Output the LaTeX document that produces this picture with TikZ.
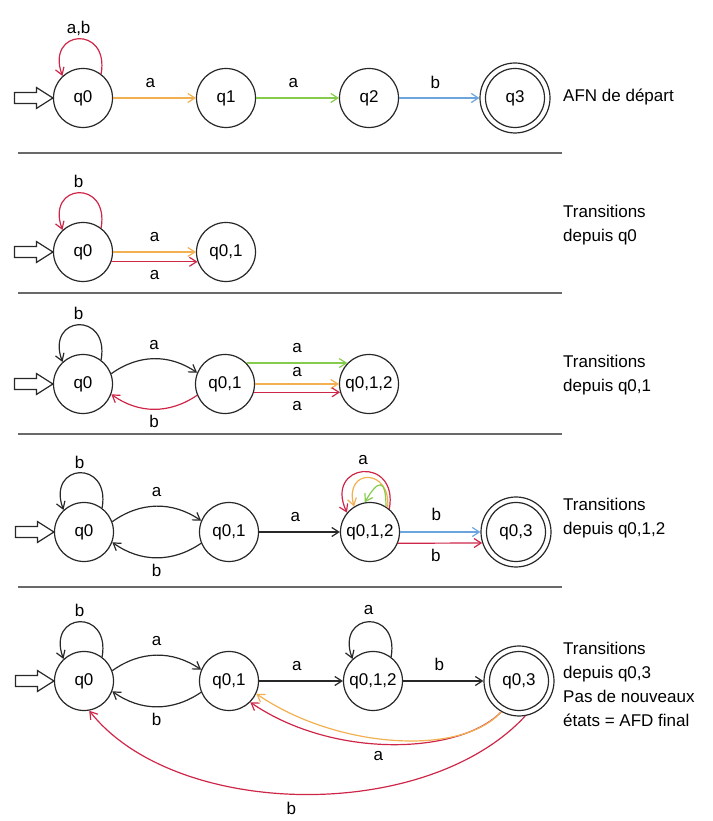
\documentclass[tikz,border=0pt]{standalone}
\usepackage{fontspec}
\setmainfont{Liberation Sans}
\usetikzlibrary{arrows.meta,calc}

\definecolor{cred}{RGB}{206,38,72}
\definecolor{corange}{RGB}{242,176,80}
\definecolor{cgreen}{RGB}{134,204,76}
\definecolor{cblue}{RGB}{108,164,222}
\definecolor{sepgray}{RGB}{105,105,105}
\definecolor{cline}{RGB}{40,40,40}

\newcommand{\automfont}{\fontsize{17}{24}\selectfont}
\newcommand{\initarrow}[1]{\path[draw=cline,line width=1.2pt,fill=white] ($(#1.west)+(-38.5,5.5)$) -- ++(22,0) -- ++(0,5) -- (#1.west) -- ++(-16.5,-10.5) -- ++(0,5) -- ++(-22,0) -- cycle;}

\begin{document}
\begin{tikzpicture}[x=1pt,y=1pt,
        state/.style={circle,draw=cline,line width=1.2pt,minimum size=59pt,inner sep=0pt,font=\automfont},
        final/.style={state,minimum size=70pt},
        trans/.style={line width=1.2pt,-{Straight Barb[length=7pt,width=9pt]}},
        lbl/.style={inner sep=0pt,text=black,font=\automfont},
        note/.style={anchor=west,align=left,inner sep=0pt,font=\automfont},
        sep/.style={line width=1.4pt,draw=sepgray},
        loopq/.style={to path={.. controls +(80:50) and +(110:50) .. (\tikztotarget) \tikztonodes}},
        loopwide/.style={to path={.. controls +(80:55) and +(115:55) .. (\tikztotarget) \tikztonodes}},
        loopmid/.style={to path={.. controls +(85:40) and +(105:40) .. (\tikztotarget) \tikztonodes}},
        loopsmall/.style={to path={.. controls +(90:30) and +(60:25) .. (\tikztotarget) \tikztonodes}}]
        \useasboundingbox (0,0) rectangle (712,821);

        \node[state] (s1q0) at (83,723) {q0};
        \node[state] (s1q1) at (226,723) {q1};
        \node[state] (s1q2) at (369,723) {q2};
        \node[final] (s1q3) at (515,723) {q3};
        \draw[cline,line width=1.2pt] (s1q3.center) circle (29.5);
        \initarrow{s1q0}
        \draw[trans,cred] (s1q0.53) to[loopq] node[lbl,above=3pt] (t1) {a,b} (s1q0.133);
        \draw[trans,corange] (s1q0) -- node[lbl,above=9.5pt,pos=0.45] (t2) {a} (s1q1);
        \draw[trans,cgreen] (s1q1) -- node[lbl,above=9.5pt,pos=0.45] (t3) {a} (s1q2);
        \draw[trans,cblue] (s1q2) -- node[lbl,above=9pt,pos=0.45] (t4) {b} (s1q3);
        \node[note] (n1) at (563,724) {AFN de départ};

        \draw[sep] (18,668) -- (562,668);

        \node[state] (s2q0) at (83,569) {q0};
        \node[state] (s2q01) at (226,569) {q0,1};
        \initarrow{s2q0}
        \draw[trans,cred] (s2q0.53) to[loopq] node[lbl,above=5pt] (t5) {b} (s2q0.133);
        \draw[trans,corange] (s2q0) -- node[lbl,above=9.5pt] (t6) {a} (s2q01);
        \draw[trans,cred] (s2q0.-19) -- node[lbl,below=7.5pt] (t7) {a} (s2q01.199);
        \node[note] (n2) at (563,595.5) {Transitions\\depuis q0};

        \draw[sep] (18,528) -- (562,528);

        \node[state] (s3q0) at (83,437) {q0};
        \node[state] (s3q01) at (225,437) {q0,1};
        \node[state] (s3q012) at (369,437) {q0,1,2};
        \initarrow{s3q0}
        \draw[trans,cline] (s3q0.53) to[loopq] node[lbl,above=5pt] (t8) {b} (s3q0.133);
        \draw[trans,cline] (s3q0.20) to[bend left=35] node[lbl,above=8.5pt] (t9) {a} (s3q01.158);
        \draw[trans,cred] (s3q01.202) to[bend left=35] node[lbl,below=5pt] (t10) {b} (s3q0.340);
        \draw[trans,cgreen] (s3q01.44) -- node[lbl,above=10pt] (t11) {a} (s3q012.136);
        \draw[trans,corange] (s3q01) -- node[lbl,above=7pt] (t12) {a} (s3q012);
        \draw[trans,cred] (s3q01.-16) -- node[lbl,below=8pt] (t13) {a} (s3q012.196);
        \node[note] (n3) at (563,446) {Transitions\\depuis q0,1};

        \draw[sep] (18,387) -- (562,387);

        \node[state] (s4q0) at (84,289) {q0};
        \node[state] (s4q01) at (229,289) {q0,1};
        \node[state] (s4q012) at (370,289) {q0,1,2};
        \node[final] (s4q03) at (516,289) {q0,3};
        \draw[cline,line width=1.2pt] (s4q03.center) circle (29.5);
        \initarrow{s4q0}
        \draw[trans,cline] (s4q0.53) to[loopq] node[lbl,above=4pt] (t14) {b} (s4q0.133);
        \draw[trans,cline] (s4q0.20) to[bend left=35] node[lbl,above=8.5pt] (t15) {a} (s4q01.158);
        \draw[trans,cline] (s4q01.202) to[bend left=35] node[lbl,below=5.5pt] (t16) {b} (s4q0.340);
        \draw[trans,cline] (s4q01) -- node[lbl,above=9.5pt,pos=0.45] (t17) {a} (s4q012);
        \draw[trans,cred] (s4q012.50) to[loopwide] node[lbl,above=7pt] (t18) {a} (s4q012.140);
        \draw[trans,corange] (s4q012.54) to[loopmid] (s4q012.122);
        \draw[trans,cgreen] (s4q012.58) to[loopsmall] (s4q012.100);
        \draw[trans,cblue] (s4q012) -- node[lbl,above=10.5pt,pos=0.45] (t19) {b} (s4q03);
        \draw[trans,cred] (s4q012.-22) -- node[lbl,below=5.5pt,pos=0.45] (t20) {b} (s4q03.198);
        \node[note] (n4) at (563,302.5) {Transitions\\depuis q0,1,2};

        \draw[sep] (18,234) -- (562,234);

        \node[state] (s5q0) at (84,140) {q0};
        \node[state] (s5q01) at (229,140) {q0,1};
        \node[state] (s5q012) at (373,140) {q0,1,2};
        \node[final] (s5q03) at (519,140) {q0,3};
        \draw[cline,line width=1.2pt] (s5q03.center) circle (29.5);
        \initarrow{s5q0}
        \draw[trans,cline] (s5q0.53) to[loopq] node[lbl,above=5pt] (t21) {b} (s5q0.133);
        \draw[trans,cline] (s5q0.20) to[bend left=35] node[lbl,above=9pt] (t22) {a} (s5q01.158);
        \draw[trans,cline] (s5q01.202) to[bend left=35] node[lbl,below=5.5pt] (t23) {b} (s5q0.340);
        \draw[trans,cline] (s5q01) -- node[lbl,above=9.5pt,pos=0.45] (t24) {a} (s5q012);
        \draw[trans,cline] (s5q012.53) to[loopq] node[lbl,above=7pt] (t25) {a} (s5q012.133);
        \draw[trans,cline] (s5q012) -- node[lbl,above=10pt,pos=0.45] (t26) {b} (s5q03);
        \draw[trans,cred] (s5q03.240) .. controls +(-40,-42) and +(85,-58) .. node[lbl,below=6.5pt,pos=0.55] (t27) {a} (s5q01.315);
        \draw[trans,corange] (s5q03.240) .. controls +(-40,-45) and +(80,-55) .. (s5q01.335);
        \draw[trans,cred] (s5q03.280) .. controls +(-100,-108) and +(85,-108) .. node[lbl,below=8pt,pos=0.52] (t28) {b} (s5q0.280);
        \node[note] (n5) at (563,137) {Transitions\\depuis q0,3\\Pas de nouveaux\\états = AFD final};
\end{tikzpicture}
\end{document}
